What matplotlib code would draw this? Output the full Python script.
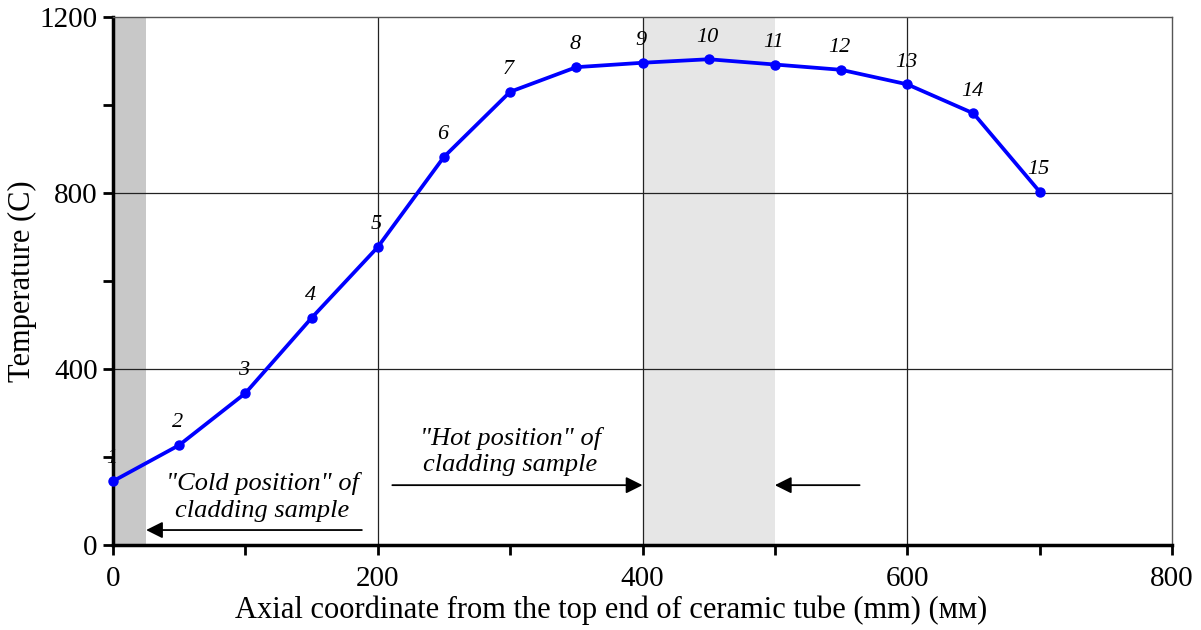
import matplotlib.pyplot as plt

plt.rcParams['font.family'] = ['Liberation Serif', 'DejaVu Serif']

# Thermocouple positions along the tube and measured temperatures
axial_mm = [0, 50, 100, 150, 200, 250, 300, 350, 400, 450, 500, 550, 600, 650, 700]
temp_c = [145, 227, 345, 516, 677, 882, 1030, 1086, 1096, 1104, 1092, 1080, 1047, 981, 803]
point_ids = [str(i) for i in range(1, 16)]

cold_zone = (0, 25)
hot_zone = (400, 500)

fig = plt.figure(figsize=(12.01, 6.3), dpi=100)
ax = fig.add_axes([113 / 1201, 1 - 545 / 630, 1059 / 1201, 528 / 630])

ax.axvspan(*cold_zone, color='#c8c8c8', lw=0, zorder=0)
ax.axvspan(*hot_zone, color='#e6e6e6', lw=0, zorder=0)

for gx in [200, 400, 600]:
    ax.axvline(gx, color='#222222', lw=0.9, zorder=1)
for gy in [400, 800]:
    ax.axhline(gy, color='#222222', lw=0.9, zorder=1)

ax.plot(axial_mm, temp_c, color='#0000ff', lw=2.7, marker='o', ms=6.5, zorder=3, clip_on=False)

for x, t, lab in zip(axial_mm, temp_c, point_ids):
    ax.annotate(lab, (x, t), xytext=(-1, 16), textcoords='offset points',
                ha='center', va='center', style='italic', fontsize=16, zorder=4)

# arrows pointing at the sample positions
arrow_kw = dict(arrowstyle='-|>,head_length=1.0,head_width=0.5', color='black', lw=1.3,
                shrinkA=0, shrinkB=0)
ax.annotate('', xy=(25, 34), xytext=(188, 34), arrowprops=arrow_kw)
ax.annotate('', xy=(400, 136), xytext=(211, 136), arrowprops=arrow_kw)
ax.annotate('', xy=(500, 136), xytext=(564, 136), arrowprops=arrow_kw)

ax.text(113, 110, '"Cold position" of\ncladding sample', ha='center', va='center',
        style='italic', fontsize=19, linespacing=1.3)
ax.text(300, 212, '"Hot position" of\ncladding sample', ha='center', va='center',
        style='italic', fontsize=19, linespacing=1.25)

ax.set_xlim(0, 800)
ax.set_ylim(0, 1200)
ax.set_xticks(range(0, 801, 100))
ax.set_xticklabels(['0', '', '200', '', '400', '', '600', '', '800'])
ax.set_yticks(range(0, 1201, 200))
ax.set_yticklabels(['0', '', '400', '', '800', '', '1200'])
ax.tick_params(direction='out', length=7, width=2, labelsize=21)
ax.tick_params(axis='x', pad=8)
ax.tick_params(axis='y', pad=4)

for side in ['left', 'bottom']:
    ax.spines[side].set_linewidth(2.5)
    ax.spines[side].set_color('black')
for side in ['top', 'right']:
    ax.spines[side].set_linewidth(1.0)
    ax.spines[side].set_color('#555555')

ax.set_xlabel('Axial coordinate from the top end of ceramic tube (mm) (мм)', fontsize=22, labelpad=0)
ax.xaxis.set_label_coords(0.47, -0.095)
ax.set_ylabel('Temperature (C)', fontsize=22, labelpad=2)

fig.savefig('out.png', dpi=100)
